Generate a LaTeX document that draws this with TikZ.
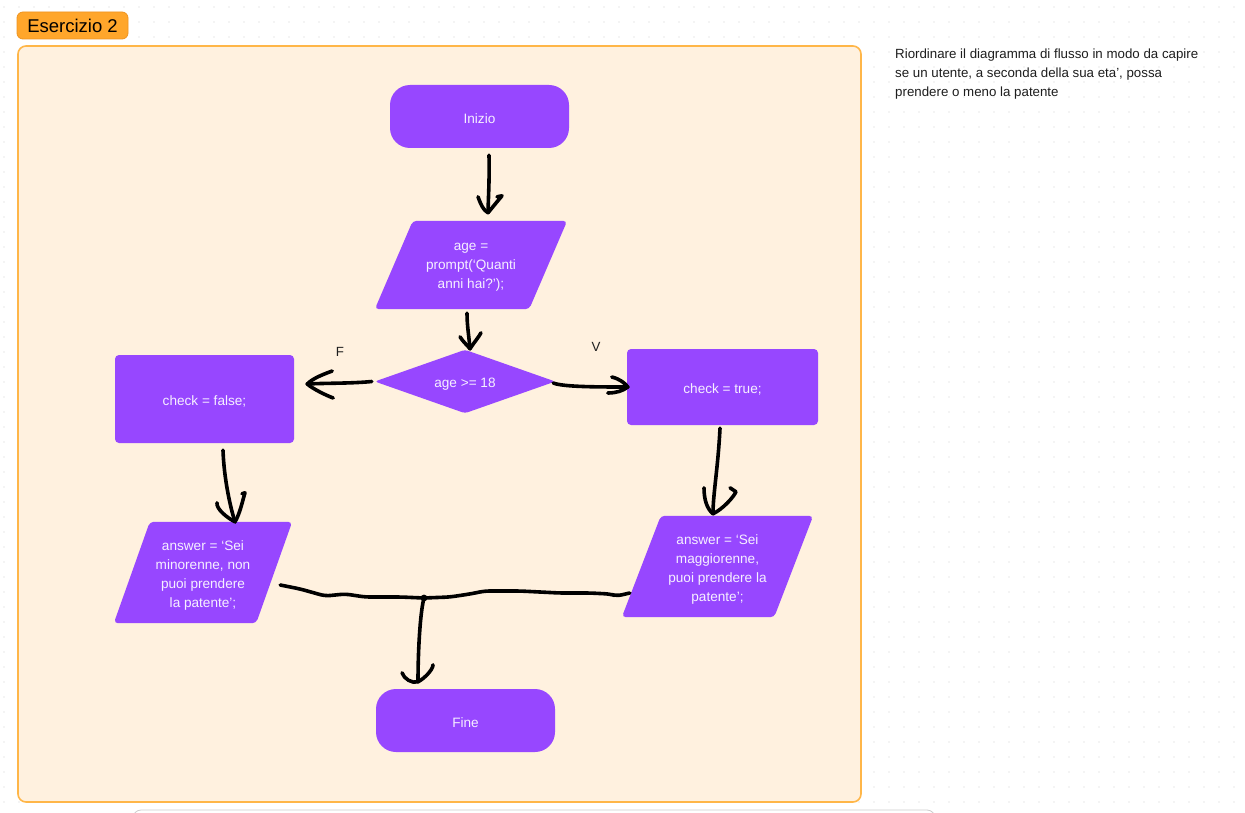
\documentclass[tikz,border=0pt]{standalone}
\usepackage{fontspec}
\setmainfont{Liberation Sans}
\usetikzlibrary{calc}
\definecolor{purp}{HTML}{9747FF}
\definecolor{purptext}{HTML}{F6EFFF}
\definecolor{framefill}{HTML}{FFF1DF}
\definecolor{framedraw}{HTML}{FFB648}
\definecolor{badgefill}{HTML}{FFA62B}
\definecolor{badgeedge}{HTML}{EE9420}
\definecolor{dotgray}{HTML}{D2D2D2}
\definecolor{inkdark}{HTML}{1E1E1E}

% parallelogram drawn over the box of a named node; #2 is the slant
\newcommand\slantbox[2]{%
  \fill[purp, rounded corners=4pt]
    ([xshift=#2]#1.north west) -- ([xshift=#2]#1.north east) --
    ([xshift=-#2]#1.south east) -- ([xshift=-#2]#1.south west) -- cycle;}

\begin{document}
\begin{tikzpicture}[x=1pt,y=-1pt,
  flowbox/.style={fill=purp, draw=none, inner sep=0pt},
  pill/.style={flowbox, rounded corners=20pt},
  procbox/.style={flowbox, rounded corners=4pt},
  holder/.style={inner sep=0pt, draw=none},
  inlabel/.style={text=purptext, inner sep=0pt, yshift=-2.5pt,
    font=\fontsize{13.6}{19}\selectfont, align=center},
  note/.style={text=inkdark, inner sep=0pt, font=\fontsize{13.3}{19}\selectfont},
  hand/.style={line width=3.6pt, line cap=round, line join=round, black},
]
\useasboundingbox (0,0) rectangle (1245,813);
\fill[white] (0,0) rectangle (1245,813);

% dotted canvas
\foreach \i in {0,...,82}
  \foreach \j in {0,...,54}
    \fill[dotgray] (4+15*\i, 7+15*\j) circle (0.7pt);

% card peeking in at the bottom edge
\draw[black!20, fill=white, rounded corners=8pt, line width=0.8pt]
  (133,825) -- (133,810) -- (935,810) -- (935,825);

% section frame and title badge
\node[draw=framedraw, fill=framefill, line width=1.6pt, rounded corners=8pt,
  minimum width=843pt, minimum height=756pt, inner sep=0pt] (panel) at (439.5,424) {};
\node[draw=badgeedge, fill=badgefill, line width=0.8pt, rounded corners=6pt,
  minimum width=111pt, minimum height=27pt, inner sep=0pt,
  font=\fontsize{18.5}{20}\selectfont, text=black] (title) at (72.5,25.5) {Esercizio 2};

% instructions
\node[note, anchor=north west, align=left] (task) at (895,49)
  {Riordinare il diagramma di flusso in modo da capire\\
   se un utente, a seconda della sua eta’, possa\\
   prendere o meno la patente};

% flowchart blocks
\node[pill, minimum width=179pt, minimum height=63pt] (inizio) at (479.5,116.5) {};
\node[inlabel] (inizio-t) at (inizio) {Inizio};

\node[holder, minimum width=154pt, minimum height=88pt] (age) at (471,265) {};
\slantbox{age}{19}
\node[inlabel] (age-t) at (age) {age =\\prompt(‘Quanti\\anni hai?’);};

\node[holder, minimum width=180pt, minimum height=63pt] (cond) at (465,381.5) {};
\fill[purp, rounded corners=3pt] (cond.west) -- (cond.north) -- (cond.east) -- (cond.south) -- cycle;
\node[inlabel] (cond-t) at (cond) {age >= 18};

\node[procbox, minimum width=179pt, minimum height=88pt] (false) at (204.5,399) {};
\node[inlabel] (false-t) at (false) {check = false;};
\node[procbox, minimum width=191pt, minimum height=76pt] (true) at (722.5,387) {};
\node[inlabel] (true-t) at (true) {check = true;};

\node[holder, minimum width=142pt, minimum height=101pt] (minor) at (203,572.5) {};
\slantbox{minor}{18}
\node[inlabel] (minor-t) at (minor) {answer = ‘Sei\\minorenne, non\\puoi prendere\\la patente’;};

\node[holder, minimum width=152pt, minimum height=101pt] (major) at (717.5,566.5) {};
\slantbox{major}{19.5}
\node[inlabel] (major-t) at (major) {answer = ‘Sei\\maggiorenne,\\puoi prendere la\\patente’;};

\node[pill, minimum width=179pt, minimum height=63pt] (fine) at (465.5,720.5) {};
\node[inlabel] (fine-t) at (fine) {Fine};

\node[note] (flabel) at (340,352) {F};
\node[note] (vlabel) at (596,347) {V};

% hand-drawn connectors
\coordinate (tipA) at ([shift={(17,-8)}]age.north);
\draw[hand] ([shift={(9.5,7)}]inizio.south) .. controls +(0.5,25) and +(0.5,-20) .. (tipA);
\draw[hand] ($(tipA)+(-10,-16)$) .. controls +(3,8) and +(-5,-3) .. (tipA)
  -- ($(tipA)+(9,-11)$) -- ($(tipA)+(14,-17)$) -- ($(tipA)+(9,-16)$);

\coordinate (tipB) at ([shift={(5,-1)}]cond.north);
\draw[hand] ([shift={(-4,4)}]age.south) .. controls +(0,12) and +(-1,-12) .. (tipB);
\draw[hand] ($(tipB)+(-10,-12)$) .. controls +(3,5) and +(-3,-4) .. (tipB)
  .. controls +(3,-5) and +(-2,4) .. ($(tipB)+(11,-16)$);

\coordinate (tipC) at ([shift={(13,-15)}]false.east);
\draw[hand] ([xshift=-3]cond.west) .. controls +(-20,2) and +(20,-1) .. (tipC);
\draw[hand] ($(tipC)+(25,-13)$) .. controls +(-8,3) and +(6,-6) .. (tipC)
  .. controls +(6,5) and +(-8,-3) .. ($(tipC)+(26,14)$);

\coordinate (tipD) at ([xshift=1]true.west);
\draw[hand] ([shift={(-2,1.5)}]cond.east) .. controls +(10,4) and +(-30,0) .. (tipD);
\draw[hand] ($(tipD)+(-16,-10)$) .. controls +(8,2) and +(-3,-4) .. (tipD)
  .. controls +(-5,4) and +(8,0) .. ($(tipD)+(-20,6)$);

\coordinate (tipE) at ([xshift=32]minor.north);
\draw[hand] ([shift={(18.5,7)}]false.south) .. controls +(1,30) and +(-4,-12) .. (tipE);
\draw[hand] ($(tipE)+(-18,-19)$) .. controls +(-1,6) and +(-8,-4) .. (tipE)
  .. controls +(5,-8) and +(-2,6) .. ($(tipE)+(10,-29)$) -- ($(tipE)+(7,-28)$);

\coordinate (tipF) at ([shift={(-4.5,-2)}]major.north);
\draw[hand] ([shift={(-2.5,3)}]true.south) .. controls +(-2,40) and +(0,-20) .. (tipF);
\draw[hand] ($(tipF)+(-9,-26)$) .. controls +(0,12) and +(-6,-5) .. (tipF)
  .. controls +(10,-5) and +(-3,6) .. ($(tipF)+(23,-22)$) -- ($(tipF)+(17,-26)$);

% both answers merge before the end
\coordinate (join) at (424,598);
\draw[hand, rounded corners=5pt] ([shift={(6,12.5)}]minor.east)
  -- ++(20,4) -- ++(25,7) -- ++(20,-2) -- ++(20,3) -- ++(35,0) -- (join);
\draw[hand, rounded corners=5pt] ([shift={(-11.5,26.5)}]major.west)
  -- ++(-13,3) -- ++(-7,-2) -- ++(-20,-1) -- ++(-30,0) -- ++(-40,-2)
  -- ++(-35,0) -- ++(-15,3) -- ++(-20,3) -- (join);
\fill (join) circle (3.4pt);

\coordinate (tipG) at ([shift={(-47.5,-7)}]fine.north);
\draw[hand] (join) .. controls +(-4,15) and +(0,-30) .. (tipG);
\draw[hand] ($(tipG)+(-16,-9)$) .. controls +(2,6) and +(-6,2) .. (tipG)
  .. controls +(6,-3) and +(0,5) .. ($(tipG)+(15,-17)$);
\end{tikzpicture}
\end{document}
